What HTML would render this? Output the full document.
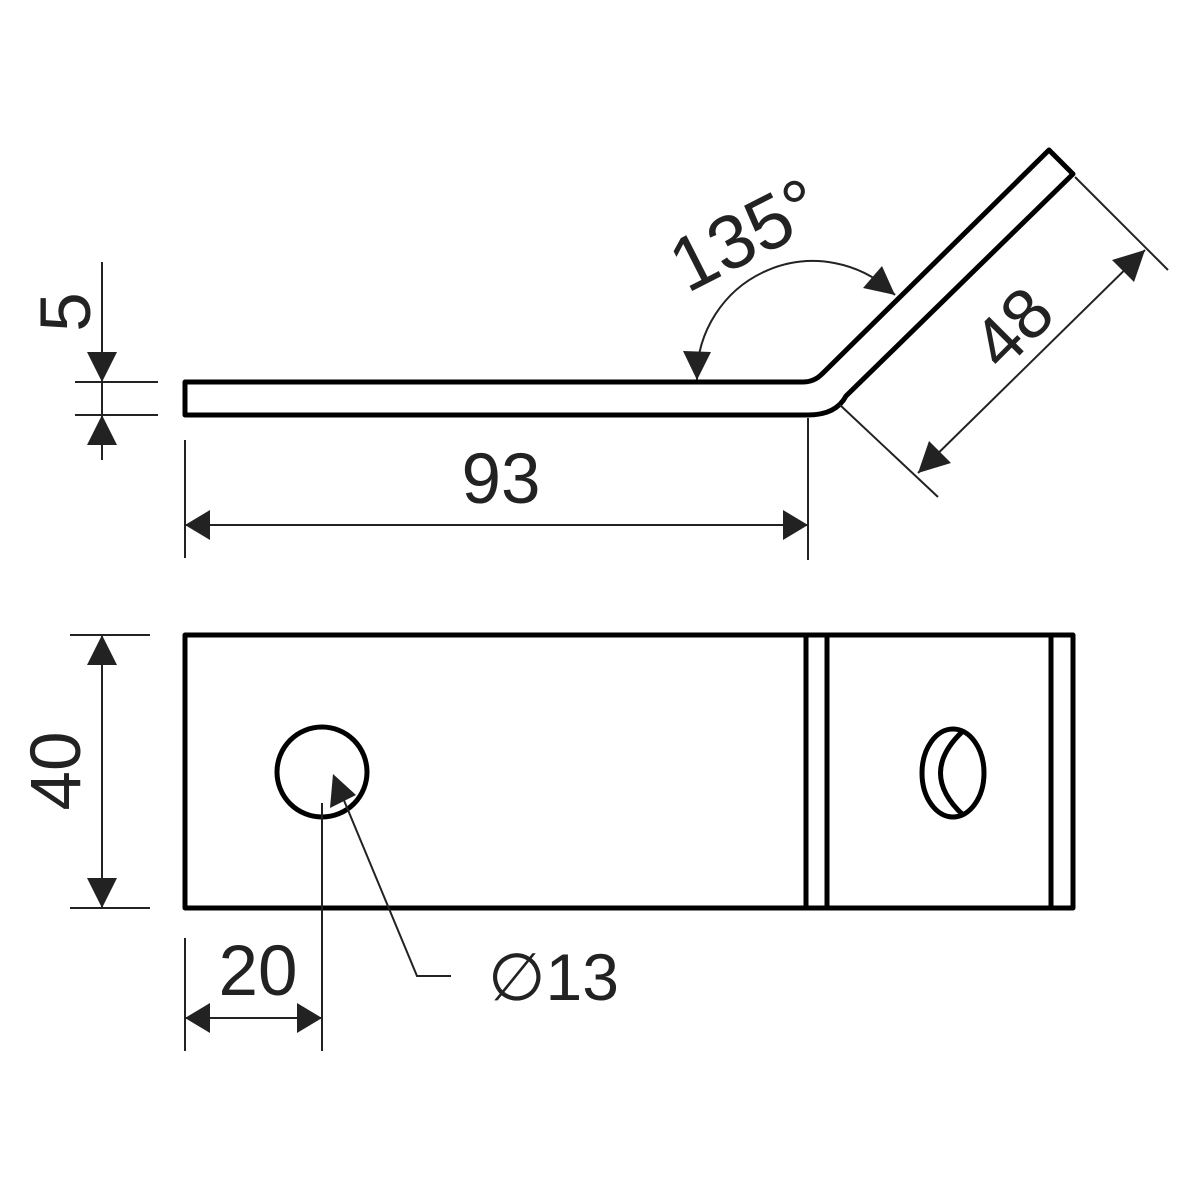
<!DOCTYPE html>
<html><head><meta charset="utf-8"><style>html,body{margin:0;padding:0;background:#fff}svg{display:block}</style></head><body>
<svg width="1200" height="1200" viewBox="0 0 1200 1200" xmlns="http://www.w3.org/2000/svg">
<g fill="none" stroke="#000" stroke-width="5" stroke-linejoin="round">
<path d="M185,382 H803 Q814,382 822,374 L1049,150 L1073,174 L846,396 Q836,415 808,415 H185 Z"/>
<rect x="185" y="635" width="888" height="273"/>
<line x1="806" y1="635" x2="806" y2="908"/>
<line x1="827" y1="635" x2="827" y2="908"/>
<line x1="1051" y1="635" x2="1051" y2="908"/>
<circle cx="322" cy="772" r="45"/>
<ellipse cx="953" cy="773" rx="31" ry="44"/>
<path d="M963,731 Q918,773 963,815"/>
</g>
<g fill="none" stroke="#222" stroke-width="2">
<line x1="102" y1="262" x2="102" y2="460"/>
<line x1="75" y1="382" x2="158" y2="382"/>
<line x1="75" y1="415" x2="158" y2="415"/>
<line x1="185" y1="440" x2="185" y2="558"/>
<line x1="808" y1="418" x2="808" y2="560"/>
<line x1="185" y1="525" x2="808" y2="525"/>
<line x1="1075" y1="177" x2="1168" y2="270"/>
<line x1="840" y1="405" x2="938" y2="497"/>
<line x1="918" y1="473" x2="1145" y2="250"/>
<path d="M697,380 A116,116 0 0 1 895,295"/>
<line x1="102" y1="635" x2="102" y2="908"/>
<line x1="70" y1="635" x2="150" y2="635"/>
<line x1="70" y1="908" x2="150" y2="908"/>
<line x1="185" y1="938" x2="185" y2="1051"/>
<line x1="322" y1="803" x2="322" y2="1051"/>
<line x1="185" y1="1018" x2="322" y2="1018"/>
<polyline points="343,798 417,976 451,976"/>
</g>
<g fill="#222">
<polygon points="102,382 87,352 117,352"/>
<polygon points="102,415 87,445 117,445"/>
<polygon points="185,525 210,510 210,540"/>
<polygon points="808,525 783,510 783,540"/>
<polygon points="918,473 929,441 951,463"/>
<polygon points="1145,250 1134,282 1112,260"/>
<polygon points="697,380 683,351 711,352"/>
<polygon points="895,295 863,288 882,266"/>
<polygon points="102,635 87,665 117,665"/>
<polygon points="102,908 87,878 117,878"/>
<polygon points="185,1018 210,1003 210,1033"/>
<polygon points="322,1018 297,1003 297,1033"/>
<polygon points="333,774 330,808 356,795"/>
</g>
<g font-family="Liberation Sans, sans-serif" fill="#222" font-size="71">
<text x="501" y="503" text-anchor="middle">93</text>
<text x="258" y="995" text-anchor="middle">20</text>
<text x="488" y="1000" font-size="66">∅13</text>
<text transform="translate(90,312) rotate(-90)" text-anchor="middle">5</text>
<text transform="translate(80,771) rotate(-90)" text-anchor="middle">40</text>
<text transform="translate(1030,345) rotate(-45)" text-anchor="middle">48</text>
<text transform="translate(757,258) rotate(-27)" text-anchor="middle" font-size="76">135°</text>
</g>
</svg>
</body></html>
